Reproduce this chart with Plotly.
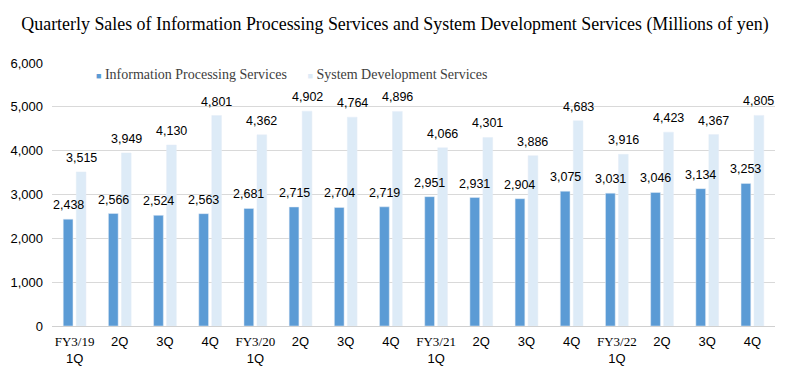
import plotly.graph_objects as go

categories = ["FY3/19 1Q", "2Q", "3Q", "4Q", "FY3/20 1Q", "2Q", "3Q", "4Q",
              "FY3/21 1Q", "2Q", "3Q", "4Q", "FY3/22 1Q", "2Q", "3Q", "4Q"]
tick_labels = ["FY3/19<br>1Q", "2Q", "3Q", "4Q",
               "FY3/20<br>1Q", "2Q", "3Q", "4Q",
               "FY3/21<br>1Q", "2Q", "3Q", "4Q",
               "FY3/22<br>1Q", "2Q", "3Q", "4Q"]
info_processing = [2438, 2566, 2524, 2563, 2681, 2715, 2704, 2719,
                   2951, 2931, 2904, 3075, 3031, 3046, 3134, 3253]
system_dev = [3515, 3949, 4130, 4801, 4362, 4902, 4764, 4896,
              4066, 4301, 3886, 4683, 3916, 4423, 4367, 4805]
series_names = ["Information Processing Services", "System Development Services"]
series_colors = ["#5B9BD5", "#DDEBF7"]

BARGAP = 0.425
BARGROUPGAP = 0.25


def fmt_tick(t):
    if "<br>" in t:
        fy, q = t.split("<br>")
        return f"<span style='font-family:Liberation Serif'>{fy}</span><br>{q}"
    return t


x = list(range(len(categories)))
slot = (1 - BARGAP) / 2  # width of one trace slot inside a group (category units)

fig = go.Figure()
annotations = []
for k, (vals, name, col) in enumerate(zip([info_processing, system_dev], series_names, series_colors)):
    fig.add_trace(go.Bar(x=x, y=vals, name=name, marker_color=col, showlegend=False,
                         hoverinfo="x+y"))
    off = (k - 0.5) * slot
    for xi, v in zip(x, vals):
        annotations.append(dict(
            x=xi + off, y=v, xref="x", yref="y", text=f"{v:,}", showarrow=False,
            xanchor="center", yanchor="bottom", yshift=5,
            font=dict(family="Liberation Sans", size=12.5, color="#000000"),
        ))

# legend entries with small square markers embedded in the text, one legend each
for k, (name, col) in enumerate(zip(series_names, series_colors)):
    fig.add_trace(go.Scatter(
        x=[None], y=[None], mode="markers",
        marker=dict(size=1, color="rgba(0,0,0,0)", line=dict(width=0)),
        name=f"<span style='font-size:9px;color:{col}'>■</span> {name}",
        showlegend=True, legend="legend" if k == 0 else "legend2",
    ))

legend_common = dict(orientation="h", yanchor="top", xanchor="left", y=1.019,
                     font=dict(family="Liberation Serif", size=14, color="#404040"),
                     bgcolor="rgba(0,0,0,0)", itemwidth=30)

fig.update_layout(
    width=790, height=370,
    margin=dict(l=52, r=15, t=63, b=44),
    paper_bgcolor="white", plot_bgcolor="white",
    title=dict(text="Quarterly Sales of Information Processing Services and System Development Services (Millions of yen)",
               x=0.5, xanchor="center", y=0.935, yanchor="middle",
               font=dict(family="Liberation Serif", size=17.9, color="#000000")),
    barmode="group", bargap=BARGAP, bargroupgap=BARGROUPGAP,
    showlegend=True,
    legend=dict(x=0.0055, **legend_common),
    legend2=dict(x=0.298, **legend_common),
    font=dict(family="Liberation Sans", size=13, color="#000000"),
    annotations=annotations,
)
fig.update_xaxes(tickmode="array", tickvals=x, ticktext=[fmt_tick(t) for t in tick_labels],
                 range=[-0.5, len(x) - 0.5], showline=True, linecolor="#d0d0d0",
                 ticks="", automargin=False, ticklabelstandoff=3,
                 tickfont=dict(family="Liberation Sans", size=13, color="#000000"))
fig.update_yaxes(range=[0, 6000], dtick=1000, tickformat=",", showgrid=True,
                 gridcolor="#d9d9d9", zeroline=False, ticks="", automargin=False,
                 ticklabelstandoff=8,
                 tickfont=dict(family="Liberation Sans", size=13, color="#000000"))

fig.write_html("out.html", post_script="document.body.style.margin='0';",
               config={"displayModeBar": False})
